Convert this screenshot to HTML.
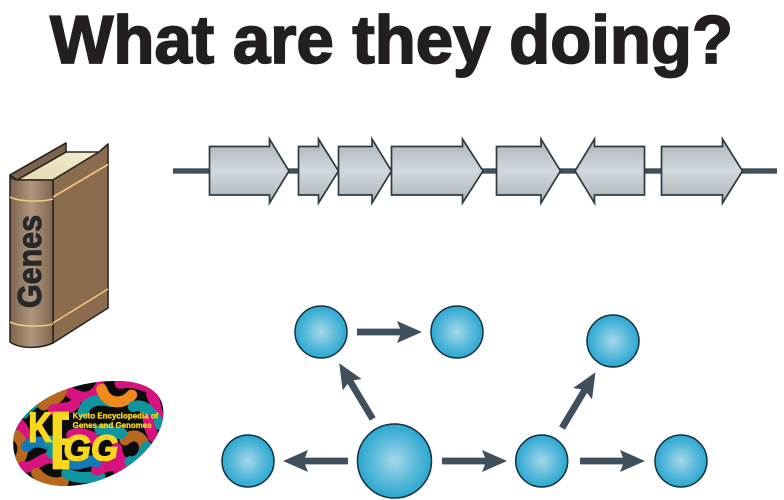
<!DOCTYPE html>
<html><head><meta charset="utf-8"><style>
html,body{margin:0;padding:0;background:#fff;width:784px;height:500px;overflow:hidden}
svg{display:block}
</style></head><body>
<svg width="784" height="500" viewBox="0 0 784 500" xmlns="http://www.w3.org/2000/svg">
<defs>
<linearGradient id="g" x1="0" y1="0" x2="0" y2="1">
<stop offset="0" stop-color="#a9b3b9"/><stop offset=".5" stop-color="#d2d9de"/><stop offset="1" stop-color="#a9b3b9"/>
</linearGradient>
<radialGradient id="c"><stop offset="0" stop-color="#a5d8ea"/><stop offset=".55" stop-color="#5fbcdc"/><stop offset="1" stop-color="#2ba7d0"/></radialGradient>
<linearGradient id="sp" x1="0" y1="0" x2="1" y2="0">
<stop offset="0" stop-color="#7d634c"/><stop offset=".5" stop-color="#b0977f"/><stop offset="1" stop-color="#80654d"/>
</linearGradient>
<linearGradient id="pg" x1="0" y1="1" x2="1" y2="0"><stop offset="0" stop-color="#e2d9ae"/><stop offset="1" stop-color="#f3edd0"/></linearGradient>
<polygon id="a" points="0,-3.4 43,-3.4 40,-11 65,0 40,11 43,3.4 0,3.4" fill="#3f4f5b"/>
<clipPath id="egg"><path d="M40,210C45,130 170,35 340,33C440,30 495,70 490,135C485,230 350,350 190,348C90,345 35,290 40,210Z"/></clipPath>
</defs>

<text x="50" y="63" font-family="'Liberation Sans',sans-serif" font-weight="700" font-size="68" fill="#231f20" stroke="#231f20" stroke-width="1.8" textLength="683" lengthAdjust="spacingAndGlyphs">What are they doing?</text>

<!-- gene track -->
<rect x="173" y="168.3" width="604" height="5.4" fill="#3f4f5b"/>
<g fill="url(#g)" stroke="#2e3a42" stroke-width="1.7" stroke-linejoin="miter">
<polygon points="209.5,146.5 269.5,146.5 269.5,139 289,171 269.5,203 269.5,195 209.5,195"/>
<polygon points="298.5,146.5 318.5,146.5 318.5,139 338.5,171 318.5,203 318.5,195 298.5,195"/>
<polygon points="338.5,146.5 372,146.5 372,139 391.5,171 372,203 372,195 338.5,195"/>
<polygon points="391.5,146.5 462.5,146.5 462.5,139 483,171 462.5,203 462.5,195 391.5,195"/>
<polygon points="496.5,146.5 541,146.5 541,139 560.5,171 541,203 541,195 496.5,195"/>
<polygon points="644.5,146.5 594.5,146.5 594.5,139 575,171 594.5,203 594.5,195 644.5,195"/>
<polygon points="661.5,146.5 722.5,146.5 722.5,139 742.5,171 722.5,203 722.5,195 661.5,195"/>
</g>

<!-- book -->
<g stroke="#2a2522" stroke-width="1.6" stroke-linejoin="round">
<polygon points="10,175 66,143 66,156 20,182" fill="#7d634c"/>
<polygon points="17,180 66,152 99,152 53,180" fill="url(#pg)"/>
<polygon points="53,180 99,152 108,144 108,308 53,343" fill="#8c6c4f"/>
<path d="M10,175 C10,178 14,180 17,180 L53,180 L53,343 C40,349 20,349 10,342 Z" fill="url(#sp)"/>
</g>
<g fill="none" stroke="#f3c77f" stroke-width="1.6">
<path d="M53,197 L108,164.5"/><path d="M53,323 L108,289"/>
<path d="M10,197 C20,202 42,202 53,199"/><path d="M10,322 C20,327 42,327 53,324"/>
</g>
<text transform="translate(41,308) rotate(-90)" font-family="'Liberation Sans',sans-serif" font-weight="700" font-size="33" fill="#26282a" stroke="#26282a" stroke-width="1" textLength="93" lengthAdjust="spacingAndGlyphs">Genes</text>

<!-- KEGG logo -->
<g transform="translate(0,370) scale(.33333)">
<g clip-path="url(#egg)">
<rect x="30" y="20" width="470" height="340" fill="#0c0c0c"/>
<g fill="none" stroke-width="33" stroke-linecap="round">
<path d="M200,60C240,90 280,90 300,50" stroke="#d8127f"/>
<path d="M360,40C400,30 440,50 470,60" stroke="#d8127f"/>
<path d="M70,130C100,90 130,90 160,70" stroke="#0f95a0"/>
<path d="M130,105C160,95 185,80 185,55" stroke="#b9661f"/>
<path d="M250,125C260,90 300,85 335,95" stroke="#0f95a0"/>
<path d="M305,58C320,105 370,105 395,75" stroke="#f08a1d"/>
<path d="M160,120C190,110 210,120 225,100" stroke="#d8127f"/>
<path d="M455,75C470,100 465,120 475,135" stroke="#d8127f"/>
<path d="M400,110C430,100 450,120 480,165" stroke="#0f95a0"/>
<path d="M375,210C400,185 440,200 432,245" stroke="#b9661f"/>
<path d="M445,150C450,190 460,190 460,200" stroke="#d8127f"/>
<path d="M350,235C350,280 400,300 430,270" stroke="#d8127f"/>
<path d="M390,275C420,280 430,250 440,230" stroke="#0f95a0"/>
<path d="M55,160C70,170 70,190 85,200" stroke="#d8127f"/>
<path d="M45,195C70,210 75,240 60,265" stroke="#b9661f"/>
<path d="M80,230C100,205 135,220 150,225" stroke="#1479b8"/>
<path d="M70,290C100,300 130,255 155,265" stroke="#d8127f"/>
<path d="M110,310C130,335 165,345 190,335" stroke="#b9661f"/>
<path d="M200,310C235,330 270,320 300,320" stroke="#0f95a0"/>
<path d="M290,300C320,290 350,270 360,310" stroke="#d8127f"/>
<path d="M215,280C240,290 265,265 290,275" stroke="#1479b8"/>
<path d="M145,215C160,205 170,240 155,250" stroke="#0f95a0"/>
<path d="M215,195C240,185 270,195 285,210" stroke="#d8127f"/>
<path d="M300,180C330,175 350,195 365,190" stroke="#0f95a0"/>
</g>
</g>
<g font-family="'Liberation Sans',sans-serif" fill="#f8d81c" font-weight="700">
<text x="85" y="215" font-size="124" stroke="#f8d81c" stroke-width="5" textLength="70" lengthAdjust="spacingAndGlyphs">K</text>
<polygon points="158,125 207,125 207,150 186,150 186,205 207,205 207,225 186,225 186,270 208,270 208,298 158,298"/>
<text x="190" y="272" font-size="108" font-style="italic" stroke="#f8d81c" stroke-width="4" textLength="165" lengthAdjust="spacingAndGlyphs">GG</text>
<text x="218" y="145" font-size="25" stroke="#f8d81c" stroke-width="1" textLength="257" lengthAdjust="spacingAndGlyphs">Kyoto Encyclopedia of</text>
<text x="218" y="174" font-size="25" stroke="#f8d81c" stroke-width="1" textLength="237" lengthAdjust="spacingAndGlyphs">Genes and Genomes</text>
</g>
</g>

<!-- network -->
<g fill="url(#c)" stroke="#14303f" stroke-width="1.5">
<circle cx="321" cy="332" r="26"/>
<circle cx="457" cy="332" r="26"/>
<circle cx="613" cy="341" r="26"/>
<circle cx="248" cy="461" r="26"/>
<circle cx="394.5" cy="461" r="37"/>
<circle cx="541.7" cy="461" r="26"/>
<circle cx="681" cy="461" r="26"/>
</g>
<use href="#a" transform="translate(357,332)"/>
<use href="#a" transform="translate(442,461)"/>
<use href="#a" transform="translate(580,461)"/>
<use href="#a" transform="translate(348,461) rotate(180)"/>
<use href="#a" transform="translate(372.7,419) rotate(-121)"/>
<use href="#a" transform="translate(562,428) rotate(-59)"/>
</svg>
</body></html>
